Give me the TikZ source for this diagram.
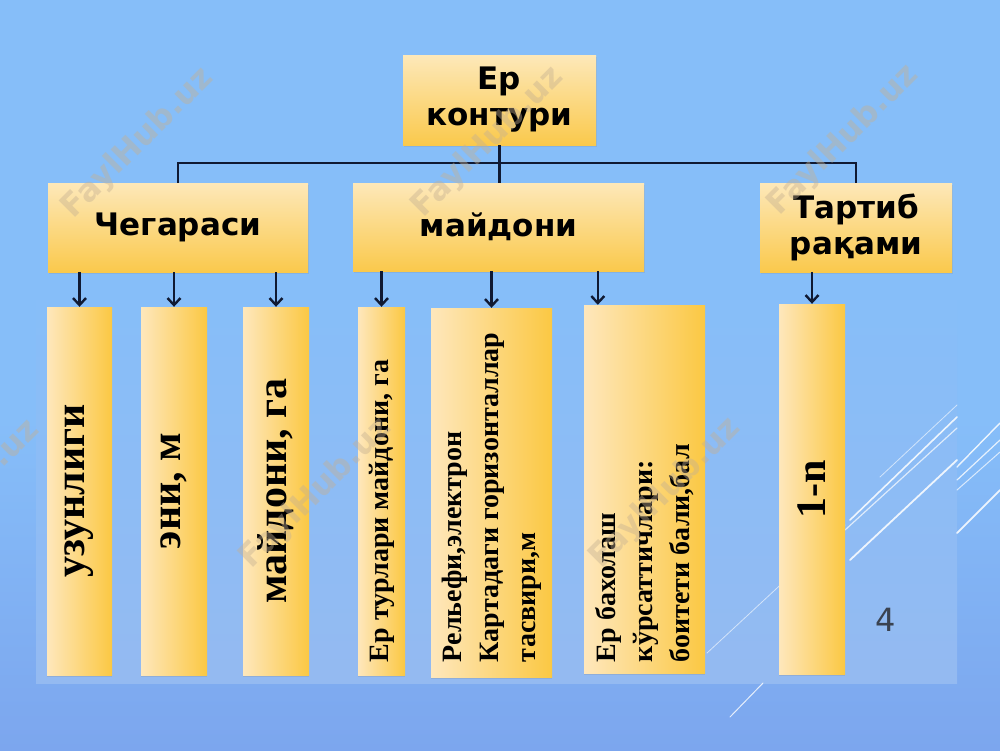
\documentclass[tikz,border=0pt]{standalone}
\usepackage{fontspec}
\setmainfont{Liberation Serif}
\newfontfamily\gothic{DejaVu Sans}
\usetikzlibrary{arrows.meta,shadows}
\definecolor{bgA}{HTML}{86BEF9}
\definecolor{bgB}{HTML}{A8CBF3}
\definecolor{bgC}{HTML}{7CA6EE}
\definecolor{pA}{HTML}{86BEF9}
\definecolor{pB}{HTML}{A2C8F4}
\definecolor{pC}{HTML}{94BAF1}
\definecolor{boxT}{HTML}{FDE8B9}
\definecolor{boxB}{HTML}{FAC94C}
\definecolor{vL}{HTML}{FEE7BC}
\definecolor{vR}{HTML}{FBC843}
\definecolor{lineC}{HTML}{101A33}
\definecolor{wmC}{RGB}{196,176,146}
\definecolor{numC}{HTML}{3A4250}
\begin{document}
\begin{tikzpicture}[x=1pt,y=-1pt,
  hbox/.style={draw=none, top color=boxT, bottom color=boxB, text=black, align=center,
    inner sep=0pt, font=\gothic\bfseries\fontsize{31}{36}\selectfont,
    drop shadow={opacity=0.18, shadow xshift=1pt, shadow yshift=-2pt}},
  vbox/.style={draw=none, left color=vL, right color=vR, text=black, inner sep=0pt,
    font=\bfseries\fontsize{42}{44}\selectfont,
    drop shadow={opacity=0.22, shadow xshift=0pt, shadow yshift=-2pt}},
  vsmall/.style={font=\bfseries\fontsize{28}{37}\selectfont},
  conn/.style={line width=2.8pt, draw=lineC},
  arr/.style={line width=2.4pt, draw=lineC, -{Straight Barb[length=7pt,width=13pt]}},
  wm/.style={font=\gothic\bfseries\fontsize{32}{32}\selectfont, text=wmC, text opacity=0.42, rotate=45},
  deco/.style={draw=white, line cap=round}
]
\useasboundingbox (0,0) rectangle (1000,750);
% background
\fill[bgA] (0,0) rectangle (1000,420);
\shade[top color=bgA, middle color=bgB, bottom color=bgC] (0,419) rectangle (1000,750);
\shade[top color=pA, middle color=pB, bottom color=pC] (36,285) rectangle (957,683);

% decorative lines
\draw[deco, line width=1.6pt, opacity=0.85] (850,520) -- (957,417);
\draw[deco, line width=0.8pt, opacity=0.6] (880,477) -- (957,405);
\draw[deco, line width=1.2pt, opacity=0.7] (845,530) -- (957,428);
\draw[deco, line width=1.8pt, opacity=0.85] (850,560) -- (957,460);
\draw[deco, line width=0.8pt, opacity=0.6] (707,653) -- (845,525);
\draw[deco, line width=1.4pt, opacity=0.85] (957,467) -- (1000,423);
\draw[deco, line width=1.2pt, opacity=0.8] (957,480) -- (1000,440);
\draw[deco, line width=1pt, opacity=0.7] (957,490) -- (1000,452);
\draw[deco, line width=1.8pt, opacity=0.85] (957,533) -- (1000,490);
\draw[deco, line width=1pt, opacity=0.8] (730,717) -- (763,683);

% level 1 and 2
\node[hbox, minimum width=193pt, minimum height=90pt] (top) at (499.5,100) {Ер\\контури};
\node[hbox, minimum width=260pt, minimum height=89pt] (cheg) at (178,227.5) {Чегараси};
\node[hbox, minimum width=291pt, minimum height=88pt] (may) at (498.5,227) {майдони};
\node[hbox, minimum width=192pt, minimum height=89pt] (tart) at (856,227.5) {Тартиб\\рақами};

% level 3
\node[vbox, minimum width=65pt, minimum height=368pt] (b1) at (79.5,491) {\rotatebox{90}{узунлиги}};
\node[vbox, minimum width=66pt, minimum height=368pt] (b2) at (174,491) {\rotatebox{90}{эни, м}};
\node[vbox, minimum width=66pt, minimum height=368pt] (b3) at (276,491) {\rotatebox{90}{майдони, га}};
\node[vbox, vsmall, minimum width=47pt, minimum height=368pt] (b4) at (381.5,491)
  {\rotatebox{90}{\parbox{342pt}{\raggedright Ер турлари майдони, га}}};
\node[vbox, vsmall, minimum width=121pt, minimum height=369pt] (b5) at (491.5,492.5)
  {\rotatebox{90}{\parbox{339pt}{\raggedright Рельефи,электрон\\Картадаги горизонталлар\\тасвири,м}}};
\node[vbox, vsmall, minimum width=121pt, minimum height=368pt] (b6) at (644.5,489)
  {\rotatebox{90}{\parbox{346pt}{\raggedright Ер бахолаш\\кўрсаттичлари:\\боитети бали,бал}}};
\node[vbox, minimum width=66pt, minimum height=370pt] (b7) at (812,489) {\rotatebox{90}{1-n}};

% tree connectors
\coordinate (busy) at (0,163);
\coordinate (bus) at (top.south |- busy);
\draw[conn] (top.south) -- (top.south |- may.north);
\draw[conn] (cheg.north) |- (bus) -| (tart.north);

% arrows
\coordinate (b6in) at ([xshift=14pt]b6.north west);
\draw[arr] (cheg.south -| b1.north) -- (b1.north);
\draw[arr] (cheg.south -| b2.north) -- (b2.north);
\draw[arr] (cheg.south -| b3.north) -- (b3.north);
\draw[arr] (may.south -| b4.north) -- (b4.north);
\draw[arr] (may.south -| b5.north) -- (b5.north);
\draw[arr] (may.south -| b6in) -- (b6in);
\draw[arr] (tart.south -| b7.north) -- (b7.north);

% slide number
\node[font=\gothic\fontsize{32}{32}\selectfont, text=numC] (num) at (886,620) {4};

% watermarks
\node[wm] (w1) at (138,143) {FaylHub.uz};
\node[wm] (w2) at (488,142) {FaylHub.uz};
\node[wm] (w3) at (843,140) {FaylHub.uz};
\node[wm] (w4) at (-36,495) {FaylHub.uz};
\node[wm] (w5) at (316,493) {FaylHub.uz};
\node[wm] (w6) at (665,493) {FaylHub.uz};
\end{tikzpicture}
\end{document}
